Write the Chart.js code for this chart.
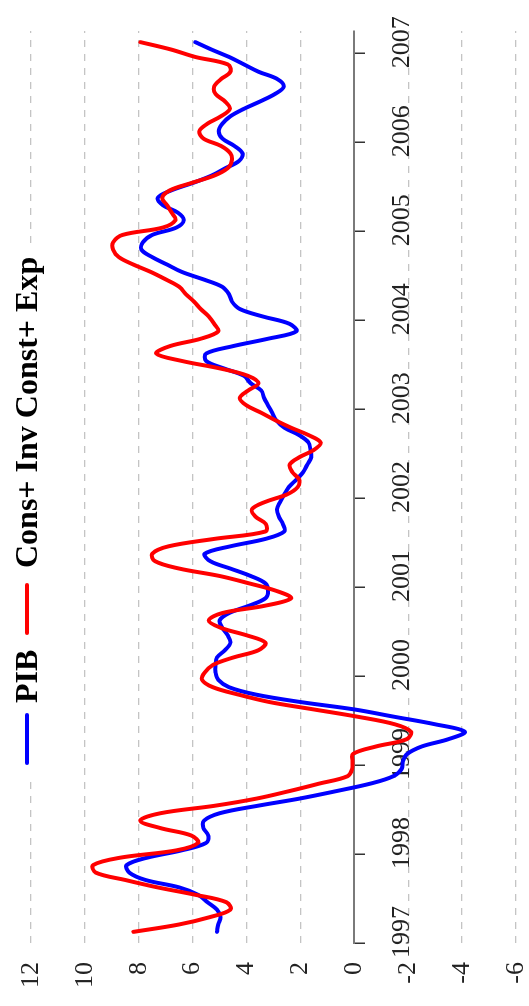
<!DOCTYPE html>
<html>
<head>
<meta charset="utf-8">
<script src="https://cdn.jsdelivr.net/npm/chart.js@4.4.1/dist/chart.umd.min.js"></script>
<style>
  html, body { margin: 0; padding: 0; background: #fff; }
  body { width: 529px; height: 1006px; overflow: hidden; position: relative; }
  /* the chart is drawn landscape and turned a quarter turn */
  #wrap {
    position: absolute; left: 0; top: 0;
    width: 1006px; height: 529px;
    transform-origin: 0 0;
    transform: translate(0, 1006px) rotate(-90deg);
    background: #fff;
  }
  #chart { position: absolute; left: 0; top: 0; width: 1006px; height: 529px; }
  #legend {
    position: absolute; left: 228px; top: 8px; width: 528px; height: 38px;
    background: #fff;
    font-family: 'Liberation Serif', 'Times New Roman', serif;
    font-weight: bold; font-size: 32px; line-height: 32px; color: #000;
    white-space: nowrap;
  }
  #legend .ln { position: absolute; top: 17px; height: 4px; border-radius: 2px; }
  #legend .tx { position: absolute; top: 2px; }
</style>
</head>
<body>
<div id="wrap">
  <canvas id="chart" width="1006" height="529"></canvas>
  <div id="legend">
    <span class="ln" style="left:13px;width:52px;background:#0000ff"></span>
    <span class="tx" style="left:75px">PIB</span>
    <span class="ln" style="left:143px;width:52px;background:#ff0000"></span>
    <span class="tx" style="left:210px">Cons+ Inv Const+ Exp</span>
  </div>
</div>
<script>
// monthly observations, Jan 1997 .. Jan 2007
const months = Array.from({ length: 121 }, (_, i) => i);

const pib = [
  5.1, 5.05, 4.97, 5.1, 5.45, 5.8, 6.5, 7.75, 8.35, 8.45, 7.7, 6.4,
  5.5, 5.42, 5.6, 5.58, 5.0, 3.6, 2.0, 0.65, -0.6, -1.45, -1.76, -1.8,
  -1.96, -2.5, -3.5, -4.1, -3.0, -1.5, 0.0, 2.0, 3.65, 4.65, 5.05, 5.15,
  5.15, 5.1, 4.8, 4.6, 4.7, 4.9, 5.0, 4.65, 3.9, 3.3, 3.2, 3.3,
  3.85, 4.6, 5.35, 5.55, 4.6, 3.3, 2.6, 2.65, 2.8, 2.87, 2.75, 2.6,
  2.43, 2.15, 1.9, 1.75, 1.6, 1.63, 1.7, 2.05, 2.6, 2.9, 3.05, 3.2,
  3.35, 3.45, 3.85, 4.1, 4.85, 5.5, 5.5, 4.5, 3.2, 2.15, 2.4, 3.4,
  4.25, 4.54, 4.65, 4.9, 5.6, 6.4, 6.95, 7.5, 7.9, 7.85, 7.5, 6.6,
  6.33, 6.55, 7.1, 7.3, 6.8, 6.0, 5.3, 4.78, 4.27, 4.15, 4.45, 4.9,
  5.03, 4.9, 4.6, 4.1, 3.5, 2.95, 2.62, 2.85, 3.55, 4.1, 4.65, 5.3,
  5.9
];

const consInvExp = [
  8.2, 6.5, 5.35, 4.6, 4.75, 5.9, 7.3, 8.5, 9.6, 9.7, 8.7, 6.6,
  5.8, 6.05, 7.2, 7.95, 7.2, 5.2, 3.6, 2.4, 1.3, 0.25, 0.08, 0.07,
  0.05, -0.8, -1.95, -2.1, -1.5, -0.15, 1.5, 3.15, 4.3, 5.25, 5.65, 5.55,
  5.25, 4.5, 3.55, 3.3, 4.0, 4.95, 5.4, 4.9, 3.3, 2.35, 2.9, 3.9,
  5.0, 6.5, 7.4, 7.5, 6.9, 5.2, 3.3, 3.28, 3.67, 3.8, 3.3, 2.5,
  2.1, 2.05, 2.3, 2.4, 2.05, 1.5, 1.25, 1.7, 2.35, 2.93, 3.45, 4.0,
  4.25, 3.95, 3.56, 3.95, 5.0, 6.4, 7.35, 6.85, 5.7, 5.05, 5.2, 5.4,
  5.7, 5.95, 6.25, 6.5, 7.0, 7.55, 8.2, 8.74, 8.95, 8.95, 8.6, 7.1,
  6.64, 6.78, 6.95, 7.13, 6.85, 6.05, 5.2, 4.7, 4.55, 4.6, 4.95, 5.6,
  5.75, 5.45, 4.95, 4.62, 4.8, 5.15, 5.2, 4.95, 4.6, 4.7, 5.9, 6.8,
  7.94
];

const years = ['1997', '1998', '1999', '2000', '2001', '2002', '2003', '2004', '2005', '2006', '2007'];
const yTicks = [12, 10, 8, 6, 4, 2, 0, -2, -4, -6];

const tickFont = { family: "'Liberation Serif', 'Times New Roman', serif", size: 26, lineHeight: 1 };

new Chart(document.getElementById('chart'), {
    type: 'line',
    data: {
        datasets: [
            {
                label: 'PIB',
                data: months.map((m, i) => ({ x: m, y: pib[i] })),
                borderColor: '#0000ff',
                borderWidth: 4,
                order: 1
            },
            {
                label: 'Cons+ Inv Const+ Exp',
                data: months.map((m, i) => ({ x: m, y: consInvExp[i] })),
                borderColor: '#ff0000',
                borderWidth: 4,
                order: 0
            }
        ]
    },
    options: {
        responsive: false,
        devicePixelRatio: 1,
        animation: false,
        layout: { padding: { left: 0, right: 31, top: 31, bottom: 13 } },
        elements: {
            point: { radius: 0 },
            line: { tension: 0.35, fill: false, borderCapStyle: 'round', borderJoinStyle: 'round' }
        },
        plugins: {
            legend: { display: false },
            tooltip: { enabled: false }
        },
        scales: {
            x: {
                type: 'linear',
                min: -1.5,
                max: 121.5,
                position: { y: 0 },
                afterBuildTicks: s => { s.ticks = years.map((_, i) => ({ value: -1.5 + 12 * i })); },
                afterFit: s => { s.height = 0; },
                grid: { drawOnChartArea: false, drawTicks: true, tickLength: 10, color: '#333', lineWidth: 1.5 },
                border: { display: true, color: '#7a7a7a', width: 2 },
                ticks: {
                    callback: (v, i) => years[i],
                    labelOffset: 11,
                    padding: 25,
                    maxRotation: 0,
                    autoSkip: false,
                    font: tickFont,
                    color: '#222'
                }
            },
            y: {
                min: -6,
                max: 12,
                afterBuildTicks: s => { s.ticks = yTicks.map(v => ({ value: v })); },
                afterFit: s => { s.width = 63; },
                grid: {
                    color: c => (c.tick && c.tick.value === 0) ? 'rgba(0,0,0,0)' : '#c4c4c4',
                    tickColor: 'rgba(0,0,0,0)',
                    lineWidth: 1.3,
                    drawTicks: true,
                    tickLength: 19
                },
                border: { display: false, dash: [7, 7] },
                ticks: { padding: 0, font: tickFont, color: '#222' }
            }
        }
    }
});
</script>
</body>
</html>
